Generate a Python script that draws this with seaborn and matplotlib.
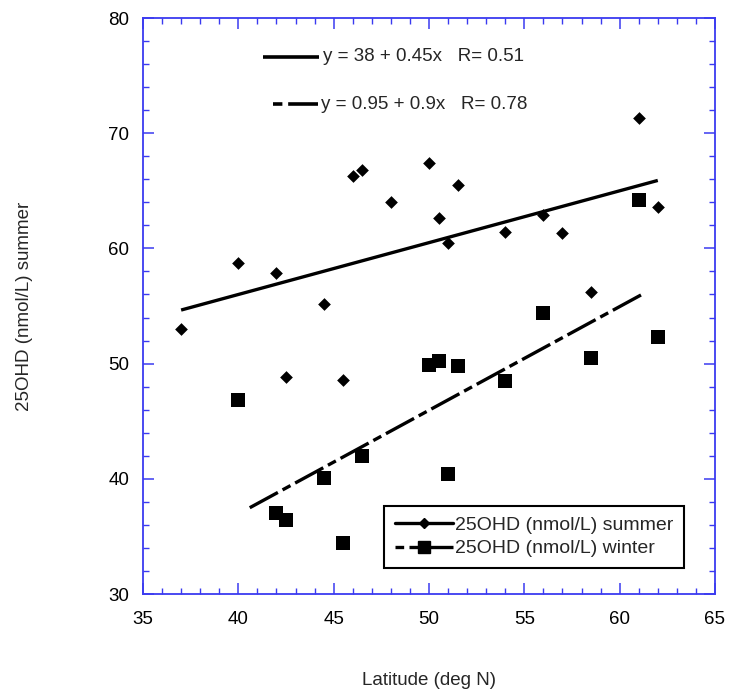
import numpy as np
import pandas as pd
import matplotlib
matplotlib.use("Agg")
import matplotlib.pyplot as plt
from matplotlib.lines import Line2D
from matplotlib.ticker import MultipleLocator
import seaborn as sns

# summer 25OHD by latitude
summer_lat = [37, 40, 42, 42.5, 44.5, 45.5, 46, 46.5, 48, 50, 50.5, 51, 51.5, 54, 56, 57, 58.5, 61, 62]
summer_ohd = [53.0, 58.7, 57.9, 48.8, 55.2, 48.6, 66.3, 66.8, 64.0, 67.4, 62.6, 60.5, 65.5, 61.4, 62.9, 61.3, 56.2, 71.3, 63.6]

# winter 25OHD by latitude
winter_lat = [40, 42, 42.5, 44.5, 45.5, 46.5, 50, 50.5, 51, 51.5, 54, 56, 58.5, 61, 62]
winter_ohd = [46.8, 37.0, 36.4, 40.1, 34.4, 42.0, 49.9, 50.2, 40.4, 49.8, 48.5, 54.4, 50.5, 64.2, 52.3]

# fitted lines as printed on the chart
summer_fit = (38, 0.45)
winter_fit = (0.95, 0.9)
summer_fit_range = [37, 62]
winter_fit_range = [40.6, 61.35]

summer_label = "25OHD (nmol/L) summer"
winter_label = "25OHD (nmol/L) winter"
summer_eq = "y = 38 + 0.45x   R= 0.51"
winter_eq = "y = 0.95 + 0.9x   R= 0.78"

df_s = pd.DataFrame({"lat": summer_lat, "ohd": summer_ohd})
df_w = pd.DataFrame({"lat": winter_lat, "ohd": winter_ohd})

sns.set_theme(style="white")
plt.rcParams["font.family"] = ["Liberation Sans", "DejaVu Sans"]

fig = plt.figure(figsize=(7.34, 6.95), dpi=100)
ax = fig.add_axes([0.1948, 0.1453, 0.7793, 0.8288])

FRAME = "#3a3af0"
FS = 13.5
DASH = (0, (9.6, 1.6, 2.7, 1.6))

# scatter points
sns.scatterplot(data=df_s, x="lat", y="ohd", marker="D", s=42, color="black",
                edgecolor="black", linewidth=0, ax=ax, legend=False)
sns.scatterplot(data=df_w, x="lat", y="ohd", marker="s", s=110, color="black",
                edgecolor="black", linewidth=0, ax=ax, legend=False)

# regression lines
xs = np.array(summer_fit_range)
ax.plot(xs, summer_fit[0] + summer_fit[1] * xs, color="black", lw=2.4, solid_capstyle="butt")
xw = np.array(winter_fit_range)
ax.plot(xw, winter_fit[0] + winter_fit[1] * xw, color="black", lw=2.4, linestyle=DASH,
        dash_capstyle="butt")

ax.set_xlim(35, 65)
ax.set_ylim(30, 80)
ax.xaxis.set_major_locator(MultipleLocator(5))
ax.xaxis.set_minor_locator(MultipleLocator(1))
ax.yaxis.set_major_locator(MultipleLocator(10))
ax.yaxis.set_minor_locator(MultipleLocator(2))

for sp in ax.spines.values():
    sp.set_color(FRAME)
    sp.set_linewidth(1.3)
ax.tick_params(which="both", direction="in", top=True, right=True, bottom=True, left=True,
               colors=FRAME, labelcolor="black", labelsize=FS)
ax.tick_params(which="major", length=8, width=1.1)
ax.tick_params(which="minor", length=4.5, width=1.0)
ax.tick_params(axis="x", which="major", pad=12)
ax.tick_params(axis="y", which="major", pad=10)

ax.set_xlabel("Latitude (deg N)", fontsize=FS, labelpad=32)
ax.set_ylabel(summer_label, fontsize=FS, labelpad=54)

# equation annotations
ax.plot([0.2093, 0.3077], [0.9328, 0.9328], transform=ax.transAxes, color="black", lw=2.6,
        solid_capstyle="butt")
ax.text(0.3150, 0.9328, summer_eq, transform=ax.transAxes, fontsize=FS, va="center", ha="left")
ax.plot([0.2269, 0.3060], [0.8502, 0.8502], transform=ax.transAxes, color="black", lw=2.6,
        linestyle=(0, (2.6, 1.6, 20, 0)))
ax.text(0.3110, 0.8502, winter_eq, transform=ax.transAxes, fontsize=FS, va="center", ha="left")

# legend
handles = [
    Line2D([], [], color="black", lw=2.4, marker="D", markersize=5),
    Line2D([], [], color="black", lw=2.4, linestyle=(0, (2.6, 1.6, 20, 0)), marker="s",
           markersize=9),
]
leg = ax.legend(handles, [summer_label, winter_label], loc="lower right",
                bbox_to_anchor=(0.9458, 0.045), frameon=True, fancybox=False,
                edgecolor="black", framealpha=1, fontsize=14, handlelength=3.0,
                handletextpad=0.1, borderpad=0.55, labelspacing=0.3, borderaxespad=0)
leg.get_frame().set_linewidth(1.5)

fig.savefig("out.png", dpi=100)
